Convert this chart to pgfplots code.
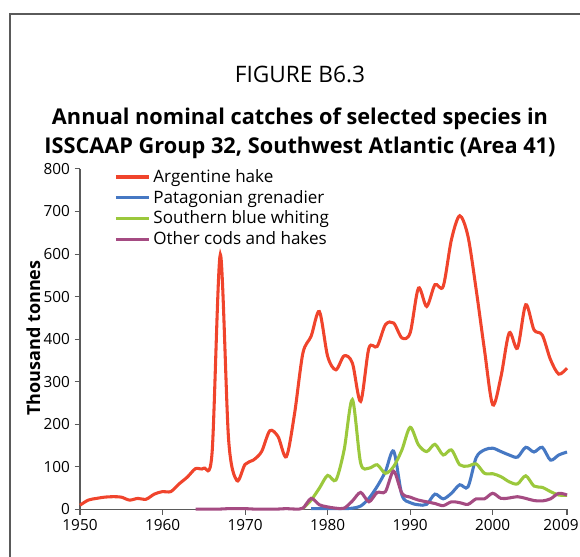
\documentclass[border=0pt]{standalone}
\usepackage{fontspec}
\setmainfont{Open Sans}
\usepackage{pgfplots}
\pgfplotsset{compat=1.18}
\usetikzlibrary{calc}

\definecolor{hake}{RGB}{240,68,44}
\definecolor{gren}{RGB}{70,120,195}
\definecolor{whit}{RGB}{155,200,60}
\definecolor{cods}{RGB}{165,75,130}
\definecolor{axgray}{RGB}{90,90,90}

\begin{document}
\begin{tikzpicture}
\begin{axis}[
    name=ax,
    at={(0,0)}, anchor=south west,
    scale only axis,
    width=365.25pt, height=255.4pt,
    xmin=1950, xmax=2009, ymin=0, ymax=800,
    axis lines=left,
    axis line style={-, axgray, line width=0.9pt},
    xtick={1950,1960,...,2000},
    extra x ticks={2009},
    extra x tick style={xticklabel style={xshift=-4.5pt}},
    ytick={0,100,...,800},
    tick align=outside,
    major tick length=4pt,
    every tick/.style={axgray, line width=0.8pt},
    /pgf/number format/1000 sep={},
    /pgf/number format/assume math mode=true,
    tick label style={font=\fontsize{11.5}{13}\selectfont},
    clip=false,
    every axis plot/.append style={line width=2.3pt, smooth, tension=0.5, no markers},
    legend style={draw=none, fill=none, at={(0.07,1.007)}, anchor=north west,
      font=\fontsize{12.8}{15}\selectfont, row sep=0.3pt, inner sep=0pt,
      /tikz/every even column/.append style={column sep=1.5pt}},
    legend cell align=left,
    legend image code/.code={\draw[#1, line width=2.3pt] (0pt,0pt) -- (25pt,0pt);},
]
\addplot[hake] coordinates {
(1950,10) (1951,22) (1952,26) (1953,29) (1954,30) (1955,29) (1956,22) (1957,26)
(1958,24) (1959,36) (1960,42) (1961,42) (1962,60) (1963,76) (1964,96) (1965,97)
(1966,133) (1967,599) (1968,165) (1969,68) (1970,106) (1971,116) (1972,136)
(1973,185) (1974,171) (1975,124) (1976,226) (1977,367) (1978,407) (1979,465)
(1980,360) (1981,328) (1982,361) (1983,344) (1984,254) (1985,379) (1986,383)
(1987,434) (1988,438) (1989,403) (1990,415) (1991,520) (1992,477) (1993,528)
(1994,524) (1995,634) (1996,690) (1997,642) (1998,516) (1999,375) (2000,246)
(2001,312) (2002,415) (2003,379) (2004,481) (2005,422) (2006,410) (2007,352)
(2008,318) (2009,332)
};
\addlegendentry{Argentine hake}
\addplot[gren] coordinates {
(1978,2) (1979,2) (1980,2) (1981,2) (1982,2) (1983,3) (1984,8) (1985,26)
(1986,54) (1987,89) (1988,137) (1989,34) (1990,16) (1991,11) (1992,12)
(1993,36) (1994,25) (1995,38) (1996,58) (1997,53) (1998,122) (1999,140)
(2000,144) (2001,136) (2002,128) (2003,123) (2004,146) (2005,135) (2006,146)
(2007,116) (2008,128) (2009,135)
};
\addlegendentry{Patagonian grenadier}
\addplot[whit] coordinates {
(1977,2) (1978,22) (1979,50) (1980,80) (1981,69) (1982,140) (1983,258)
(1984,109) (1985,97) (1986,105) (1987,85) (1988,101) (1989,140) (1990,193)
(1991,152) (1992,136) (1993,153) (1994,128) (1995,140) (1996,105) (1997,102)
(1998,107) (1999,85) (2000,84) (2001,77) (2002,65) (2003,60) (2004,79)
(2005,55) (2006,52) (2007,42) (2008,34) (2009,33)
};
\addlegendentry{Southern blue whiting}
\addplot[cods] coordinates {
(1964,1) (1965,1) (1966,1) (1967,1) (1968,2) (1969,2) (1970,2) (1971,1)
(1972,1) (1973,1) (1974,1) (1975,2) (1976,1) (1977,3) (1978,26) (1979,11)
(1980,6) (1981,3) (1982,3) (1983,20) (1984,40) (1985,18) (1986,40) (1987,42)
(1988,90) (1989,38) (1990,29) (1991,22) (1992,18) (1993,14) (1994,9)
(1995,18) (1996,16) (1997,12) (1998,25) (1999,25) (2000,38) (2001,26)
(2002,27) (2003,30) (2004,26) (2005,21) (2006,20) (2007,25) (2008,38)
(2009,34)
};
\addlegendentry{Other cods and hakes}
\end{axis}

% titles and y label
\node[font=\fontsize{17}{20}\selectfont] at ($(ax.south west)+(165pt,325.9pt)$) {FIGURE B6.3};
\node[font=\fontsize{16.3}{19}\selectfont\bfseries] at ($(ax.south west)+(165pt,293pt)$) {Annual nominal catches of selected species in};
\node[font=\fontsize{16.3}{19}\selectfont\bfseries] at ($(ax.south west)+(165pt,271.5pt)$) {ISSCAAP Group 32, Southwest Atlantic (Area 41)};
\node[rotate=90, font=\fontsize{13.5}{15}\selectfont\bfseries] at ($(ax.south west)+(-35pt,128.6pt)$) {Thousand tonnes};

% frame
\draw[axgray, line width=0.9pt] ($(ax.south west)+(-52.5pt,-40pt)$) -- ($(ax.south west)+(-52.5pt,371.6pt)$) -- ($(ax.south west)+(380pt,371.6pt)$);

\pgfresetboundingbox
\useasboundingbox ($(ax.south west)+(-60pt,-34.9pt)$) rectangle ($(ax.south west)+(375pt,382.1pt)$);
\end{tikzpicture}
\end{document}
